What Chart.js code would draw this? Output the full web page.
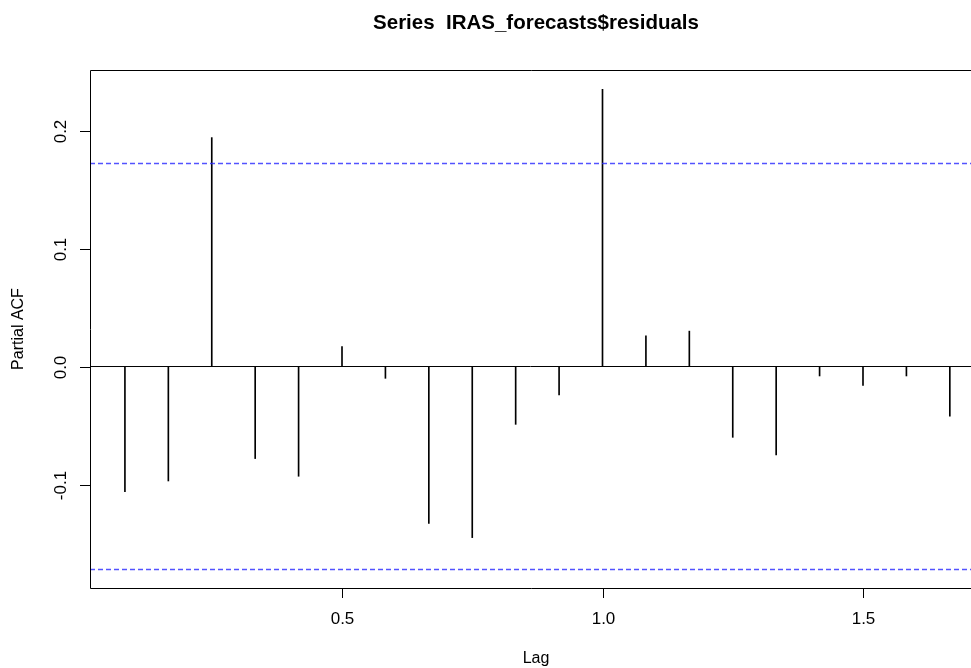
<!DOCTYPE html>
<html>
<head>
<meta charset="utf-8">
<title>Series IRAS_forecasts$residuals</title>
<script src="https://cdn.jsdelivr.net/npm/chart.js@4.4.1/dist/chart.umd.min.js"></script>
<style>
  html, body { margin: 0; padding: 0; background: #fff; }
</style>
</head>
<body>
<canvas id="pacfChart" width="971" height="668"></canvas>
<script>
// Datos (PACF de los residuos, lags en años)
const lags = [1/12, 2/12, 3/12, 4/12, 5/12, 6/12, 7/12, 8/12, 9/12, 10/12,
              11/12, 12/12, 13/12, 14/12, 15/12, 16/12, 17/12, 18/12, 19/12, 20/12];
const pacfValues = [-0.106, -0.097, 0.194, -0.078, -0.093, 0.017, -0.010, -0.133, -0.145, -0.049,
                    -0.024, 0.235, 0.026, 0.030, -0.060, -0.075, -0.008, -0.016, -0.008, -0.042];
const ciBounds = [0.172, -0.172];

const xTicks = [0.5, 1.0, 1.5];
const xTickLabels = ['0.5', '1.0', '1.5'];
const yTicks = [-0.1, 0.0, 0.1, 0.2];
const yTickLabels = ['-0.1', '0.0', '0.1', '0.2'];

const titulo = 'Series  IRAS_forecasts$residuals';
const xTitulo = 'Lag';
const yTitulo = 'Partial ACF';

const xMin = 0.0163, xMax = 1.7073;
const yMin = -0.1877, yMax = 0.2513;

const fuente = '"Liberation Sans", Arial, sans-serif';

// Ejes, marco y textos al estilo de R
const rAxes = {
    id: 'rAxes',
    afterDraw(chart) {
        const ctx = chart.ctx;
        const area = chart.chartArea;
        const x = chart.scales.x;
        const y = chart.scales.y;
        ctx.save();
        ctx.strokeStyle = '#000';
        ctx.lineWidth = 1;

        // marco (el borde derecho queda fuera de la imagen)
        ctx.beginPath();
        ctx.moveTo(chart.width + 2, area.top + 0.5);
        ctx.lineTo(area.left + 0.5, area.top + 0.5);
        ctx.lineTo(area.left + 0.5, area.bottom + 0.5);
        ctx.lineTo(chart.width + 2, area.bottom + 0.5);
        ctx.stroke();

        ctx.fillStyle = '#000';
        ctx.font = '17px ' + fuente;
        ctx.textAlign = 'center';
        ctx.textBaseline = 'middle';

        // eje x
        xTicks.forEach((v, i) => {
            const px = Math.round(x.getPixelForValue(v)) + 0.5;
            ctx.beginPath();
            ctx.moveTo(px, area.bottom);
            ctx.lineTo(px, area.bottom + 10);
            ctx.stroke();
            ctx.fillText(xTickLabels[i], px, 619);
        });

        // eje y
        yTicks.forEach((v, i) => {
            const py = Math.round(y.getPixelForValue(v)) + 0.5;
            ctx.beginPath();
            ctx.moveTo(area.left, py);
            ctx.lineTo(area.left - 10, py);
            ctx.stroke();
            ctx.save();
            ctx.translate(61, py);
            ctx.rotate(-Math.PI / 2);
            ctx.fillText(yTickLabels[i], 0, 0);
            ctx.restore();
        });

        // titulos de los ejes
        ctx.font = '16px ' + fuente;
        ctx.fillText(xTitulo, 536, 659);
        ctx.save();
        ctx.translate(19, (area.top + area.bottom) / 2);
        ctx.rotate(-Math.PI / 2);
        ctx.fillText(yTitulo, 0, 0);
        ctx.restore();

        ctx.font = 'bold 20.5px ' + fuente;
        ctx.fillText(titulo, 536, 23);
        ctx.restore();
    }
};

const ctx = document.getElementById('pacfChart').getContext('2d');
new Chart(ctx, {
    type: 'bar',
    data: {
        datasets: [{
            type: 'bar',
            data: lags.map((lag, i) => ({ x: lag, y: pacfValues[i] })),
            backgroundColor: '#000',
            borderWidth: 0,
            barThickness: 1,
            grouped: false,
            order: 2
        }, {
            type: 'line',
            data: [{ x: xMin, y: 0 }, { x: xMax, y: 0 }],
            borderColor: '#000',
            borderWidth: 1,
            pointRadius: 0,
            order: 1
        }, {
            type: 'line',
            data: [{ x: xMin, y: ciBounds[0] }, { x: xMax, y: ciBounds[0] }],
            borderColor: 'rgba(40, 40, 255, 0.8)',
            borderWidth: 1.5,
            borderDash: [5, 3],
            pointRadius: 0,
            order: 0
        }, {
            type: 'line',
            data: [{ x: xMin, y: ciBounds[1] }, { x: xMax, y: ciBounds[1] }],
            borderColor: 'rgba(40, 40, 255, 0.8)',
            borderWidth: 1.5,
            borderDash: [5, 3],
            pointRadius: 0,
            order: 0
        }]
    },
    options: {
        responsive: false,
        devicePixelRatio: 1,
        animation: false,
        layout: { padding: { left: 90, top: 70, right: 0, bottom: 80 } },
        plugins: {
            legend: { display: false },
            title: { display: false },
            tooltip: { enabled: false }
        },
        scales: {
            x: { type: 'linear', min: xMin, max: xMax, offset: false, display: false },
            y: { type: 'linear', min: yMin, max: yMax, display: false }
        }
    },
    plugins: [rAxes]
});
</script>
</body>
</html>
